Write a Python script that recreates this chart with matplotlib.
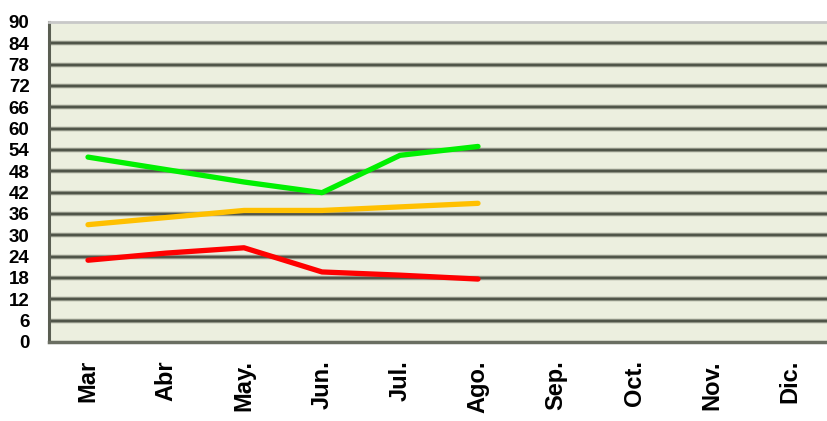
import matplotlib
matplotlib.use("Agg")
import matplotlib.pyplot as plt
import numpy as np

months = ["Mar", "Abr", "May.", "Jun.", "Jul.", "Ago.", "Sep.", "Oct.", "Nov.", "Dic."]
green_vals = [52, 48.5, 45, 42, 52.5, 55]
orange_vals = [33, 35, 37, 37, 38, 39]
red_vals = [23, 25, 26.5, 19.7, 18.8, 17.7]
yticks = list(range(0, 91, 6))

plt.rcParams['font.family'] = ['Liberation Sans', 'DejaVu Sans']

fig = plt.figure(figsize=(8.28, 4.21), dpi=100)
ax = fig.add_axes([49/828, 1-342/421, 780/828, 320/421])
ax.set_facecolor("#ECEFDF")

ax.set_xlim(-0.5, len(months) - 0.5)
ax.set_ylim(0, 90)

# 3D-ish gridlines
for v in yticks[1:-1]:
    ax.axhline(v, color="#8e9284", lw=3.2, zorder=1.1, solid_capstyle="butt")
    ax.axhline(v, color="#4f5448", lw=1.4, zorder=1.2, solid_capstyle="butt")

x = np.arange(len(green_vals))
ax.plot(x, green_vals, color="#00F000", lw=3.8, solid_capstyle="round", zorder=3)
ax.plot(x, orange_vals, color="#FFC000", lw=3.8, solid_capstyle="round", zorder=3)
ax.plot(x, red_vals, color="#FF0000", lw=3.8, solid_capstyle="round", zorder=3)

ax.set_xticks(np.arange(len(months)))
ax.set_xticklabels(months, rotation=90, fontsize=17, fontweight="bold", va="top")
ax.set_yticks(yticks)
ax.set_yticklabels([str(t) for t in yticks], fontsize=13.5, fontweight="bold")
ax.tick_params(axis="both", length=0)
ax.tick_params(axis="x", pad=13)
ax.tick_params(axis="y", pad=14)

ax.spines["right"].set_visible(False)
ax.spines["top"].set_color("#c8c8c8")
ax.spines["top"].set_linewidth(2)
ax.spines["left"].set_color("#5a5e52")
ax.spines["left"].set_linewidth(2.2)
ax.spines["bottom"].set_color("#6a6e62")
ax.spines["bottom"].set_linewidth(2.5)

fig.savefig("out.png", dpi=100)
